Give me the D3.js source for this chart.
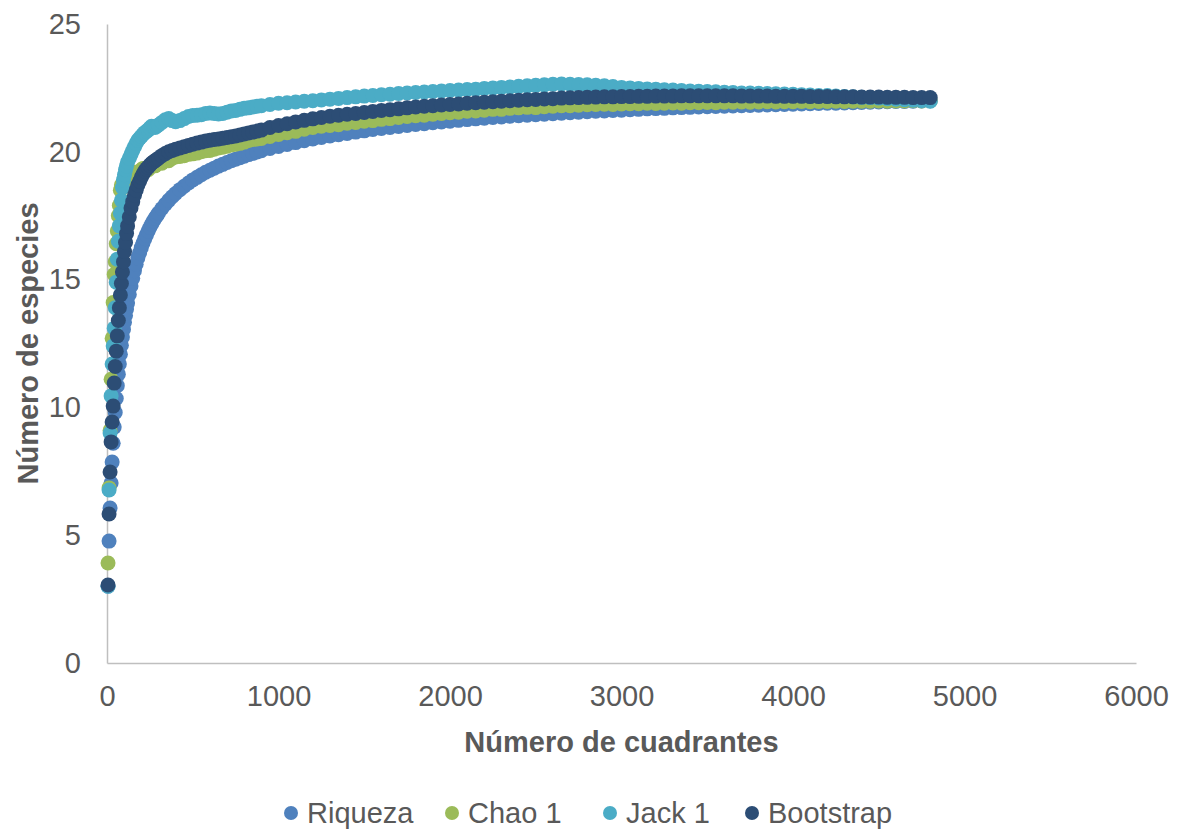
<!DOCTYPE html>
<html>
<head>
<meta charset="utf-8">
<script src="https://cdn.jsdelivr.net/npm/d3@7"></script>
<style>
  html, body { margin: 0; padding: 0; background: #fff; }
  svg { display: block; font-family: "Liberation Sans", Arial, sans-serif; }
</style>
</head>
<body>
<svg id="chart" width="1181" height="830"></svg>
<script>
// Number of sampled quadrats (x) for every accumulation step
const quadrantes = [
  6,12,18,24,30,36,42,48,54,60,66,72,78,84,90,96,102,108,114,120,
  130,140,150,160,170,180,190,200,210,220,230,240,250,260,270,280,290,300,
  320,340,360,380,400,
  425,450,475,500,525,550,575,600,625,650,675,700,725,750,775,800,825,850,875,900,
  950,1000,1050,1100,1150,1200,1250,1300,1350,1400,
  1450,1500,1550,1600,1650,1700,1750,1800,1850,1900,
  1950,2000,2050,2100,2150,2200,2250,2300,2350,2400,
  2450,2500,2550,2600,2650,2700,2750,2800,2850,2900,
  2950,3000,3050,3100,3150,3200,3250,3300,3350,3400,
  3450,3500,3550,3600,3650,3700,3750,3800,3850,3900,
  3950,4000,4050,4100,4150,4200,4250,4300,4350,4400,
  4450,4500,4550,4600,4650,4700,4750,4800
];

// Observed richness
const riqueza = [
  3.0,4.77,6.06,7.04,7.86,8.6,9.23,9.8,10.35,10.85,11.3,11.7,12.08,12.43,12.75,13.05,13.33,13.6,13.85,14.08,
  14.42,14.75,15.05,15.35,15.6,15.85,16.05,16.25,16.43,16.6,16.75,16.9,17.04,17.17,17.29,17.4,17.5,17.6,
  17.78,17.95,18.1,18.24,18.37,
  18.52,18.65,18.78,18.9,19.0,19.1,19.2,19.28,19.36,19.44,19.51,19.58,19.65,19.71,19.77,19.83,19.89,19.94,19.99,20.04,
  20.13,20.21,20.29,20.36,20.43,20.5,20.56,20.62,20.67,20.72,
  20.77,20.82,20.87,20.91,20.95,20.99,21.03,21.07,21.1,21.14,
  21.17,21.2,21.23,21.26,21.29,21.31,21.34,21.36,21.39,21.41,
  21.43,21.45,21.47,21.49,21.51,21.53,21.55,21.57,21.59,21.6,
  21.62,21.63,21.65,21.66,21.68,21.69,21.7,21.72,21.73,21.74,
  21.75,21.76,21.77,21.78,21.79,21.8,21.81,21.82,21.83,21.84,
  21.85,21.86,21.87,21.88,21.89,21.9,21.9,21.91,21.92,21.93,
  21.94,21.95,21.96,21.97,21.97,21.98,21.99,22.0
];

// Chao 1 estimator
const chao1 = [
  3.91,6.85,9.1,11.1,12.7,14.1,15.2,15.7,16.4,16.9,17.5,17.9,18.5,18.7,18.6,18.8,18.7,18.9,19.0,18.9,
  18.95,19.0,19.1,19.2,19.15,19.1,19.2,19.3,19.35,19.35,19.3,19.3,19.4,19.5,19.48,19.45,19.52,19.6,
  19.55,19.7,19.65,19.75,19.8,
  19.82,19.85,19.9,19.92,19.95,20.0,20.04,20.05,20.1,20.15,20.18,20.22,20.27,20.3,20.33,20.38,20.44,20.48,20.5,20.52,
  20.6,20.68,20.75,20.8,20.88,20.95,21.0,21.03,21.06,21.12,
  21.15,21.2,21.22,21.27,21.3,21.34,21.38,21.41,21.43,21.47,
  21.5,21.53,21.55,21.59,21.6,21.63,21.66,21.66,21.7,21.72,
  21.74,21.73,21.76,21.78,21.8,21.8,21.82,21.84,21.85,21.86,
  21.85,21.87,21.88,21.88,21.9,21.89,21.9,21.91,21.9,21.92,
  21.92,21.93,21.92,21.94,21.94,21.95,21.94,21.95,21.96,21.95,
  21.96,21.96,21.97,21.96,21.97,21.97,21.98,21.97,21.98,21.98,
  21.98,21.99,21.98,21.99,21.99,22.0,21.99,22.0
];

// First-order jackknife
const jack1 = [
  3.0,6.77,9.0,10.45,11.7,12.4,13.1,13.9,14.9,15.8,16.5,17.1,17.6,18.1,18.6,18.9,19.1,19.3,19.45,19.6,
  19.75,19.9,20.05,20.2,20.33,20.45,20.53,20.6,20.68,20.75,20.8,20.85,20.93,21.0,20.98,20.95,21.0,21.05,
  21.15,21.25,21.3,21.22,21.18,
  21.22,21.3,21.38,21.42,21.43,21.45,21.5,21.52,21.5,21.48,21.5,21.55,21.6,21.62,21.66,21.7,21.72,21.75,21.78,21.8,
  21.85,21.9,21.92,21.95,21.98,22.0,22.03,22.06,22.09,22.12,
  22.15,22.18,22.2,22.23,22.25,22.28,22.3,22.32,22.34,22.36,
  22.38,22.4,22.42,22.44,22.45,22.48,22.5,22.52,22.54,22.56,
  22.58,22.6,22.62,22.64,22.65,22.64,22.63,22.62,22.6,22.58,
  22.55,22.52,22.5,22.48,22.46,22.45,22.43,22.42,22.4,22.38,
  22.37,22.36,22.35,22.33,22.32,22.3,22.3,22.29,22.28,22.27,
  22.26,22.25,22.23,22.22,22.2,22.2,22.18,22.16,22.15,22.13,
  22.12,22.1,22.08,22.06,22.04,22.02,22.0,21.98
];

// Bootstrap estimator
const bootstrap = [
  3.05,5.83,7.47,8.65,9.43,10.05,10.95,11.6,12.2,12.8,13.4,13.9,14.4,14.85,15.3,15.7,16.1,16.45,16.8,17.1,
  17.45,17.8,18.05,18.3,18.5,18.7,18.85,19.0,19.13,19.25,19.33,19.4,19.48,19.55,19.6,19.65,19.7,19.75,
  19.85,19.93,20.0,20.05,20.1,
  20.15,20.2,20.25,20.3,20.34,20.38,20.42,20.45,20.48,20.5,20.53,20.56,20.59,20.62,20.66,20.7,20.74,20.77,20.81,20.85,
  20.95,21.03,21.1,21.17,21.23,21.29,21.34,21.39,21.43,21.47,
  21.5,21.54,21.58,21.62,21.65,21.68,21.72,21.75,21.78,21.8,
  21.83,21.85,21.87,21.9,21.92,21.94,21.96,21.98,22.0,22.02,
  22.04,22.05,22.07,22.08,22.1,22.11,22.12,22.13,22.14,22.15,
  22.15,22.16,22.16,22.17,22.17,22.18,22.18,22.18,22.19,22.19,
  22.19,22.19,22.19,22.19,22.19,22.18,22.18,22.18,22.18,22.17,
  22.17,22.17,22.17,22.16,22.16,22.16,22.15,22.15,22.15,22.14,
  22.14,22.14,22.13,22.13,22.13,22.12,22.12,22.12
];

const seriesNames = ["Riqueza", "Chao 1", "Jack 1", "Bootstrap"];
const seriesValues = [riqueza, chao1, jack1, bootstrap];
const seriesColors = ["#4F81BD", "#9BBB59", "#4BACC6", "#2C4D75"];

const xTicks = [0, 1000, 2000, 3000, 4000, 5000, 6000];
const yTicks = [0, 5, 10, 15, 20, 25];

const xTitle = "Número de cuadrantes";
const yTitle = "Número de especies";

// ---- layout ----
const svg = d3.select("#chart");
const plot = { left: 107, right: 1136, top: 24, bottom: 663 };
const textColor = "#595959";
const axisColor = "#BFBFBF";
const fontSize = 29;
const markerR = 7.5;

const x = d3.scaleLinear().domain([0, 6000]).range([plot.left, plot.right]);
const y = d3.scaleLinear().domain([0, 25]).range([plot.bottom, plot.top]);

// axes
const xAxis = svg.append("g")
  .attr("transform", `translate(0,${plot.bottom})`)
  .call(d3.axisBottom(x).tickValues(xTicks).tickSize(0).tickPadding(22).tickFormat(d3.format("d")));
const yAxis = svg.append("g")
  .attr("transform", `translate(${plot.left},0)`)
  .call(d3.axisLeft(y).tickValues(yTicks).tickSize(0).tickPadding(26).tickFormat(d3.format("d")));

[xAxis, yAxis].forEach(g => {
  g.select(".domain").attr("stroke", axisColor).attr("stroke-width", 1.5);
  g.selectAll("text")
    .attr("fill", textColor)
    .style("font-size", fontSize + "px")
    .style("font-family", '"Liberation Sans", Arial, sans-serif');
});
xAxis.selectAll("text").attr("dy", "0.71em");

// series markers, first series drawn first
seriesValues.forEach((vals, si) => {
  svg.append("g")
    .selectAll("circle")
    .data(quadrantes.map((q, i) => [q, vals[i]]))
    .join("circle")
    .attr("cx", d => x(d[0]))
    .attr("cy", d => y(d[1]))
    .attr("r", markerR)
    .attr("fill", seriesColors[si]);
});

// axis titles
svg.append("text")
  .attr("x", (plot.left + plot.right) / 2)
  .attr("y", 752)
  .attr("text-anchor", "middle")
  .attr("fill", textColor)
  .style("font-size", fontSize + "px")
  .style("font-weight", "bold")
  .text(xTitle);

svg.append("text")
  .attr("transform", `translate(38,${(plot.top + plot.bottom) / 2}) rotate(-90)`)
  .attr("text-anchor", "middle")
  .attr("fill", textColor)
  .style("font-size", fontSize + "px")
  .style("font-weight", "bold")
  .text(yTitle);

// legend
const legendX = [291, 452, 610, 752];
const legendY = 813;
const legend = svg.append("g");
seriesNames.forEach((name, i) => {
  legend.append("circle")
    .attr("cx", legendX[i])
    .attr("cy", legendY)
    .attr("r", 7)
    .attr("fill", seriesColors[i]);
  legend.append("text")
    .attr("x", legendX[i] + 16)
    .attr("y", legendY + 10)
    .attr("fill", textColor)
    .style("font-size", fontSize + "px")
    .text(name);
});
</script>
</body>
</html>
